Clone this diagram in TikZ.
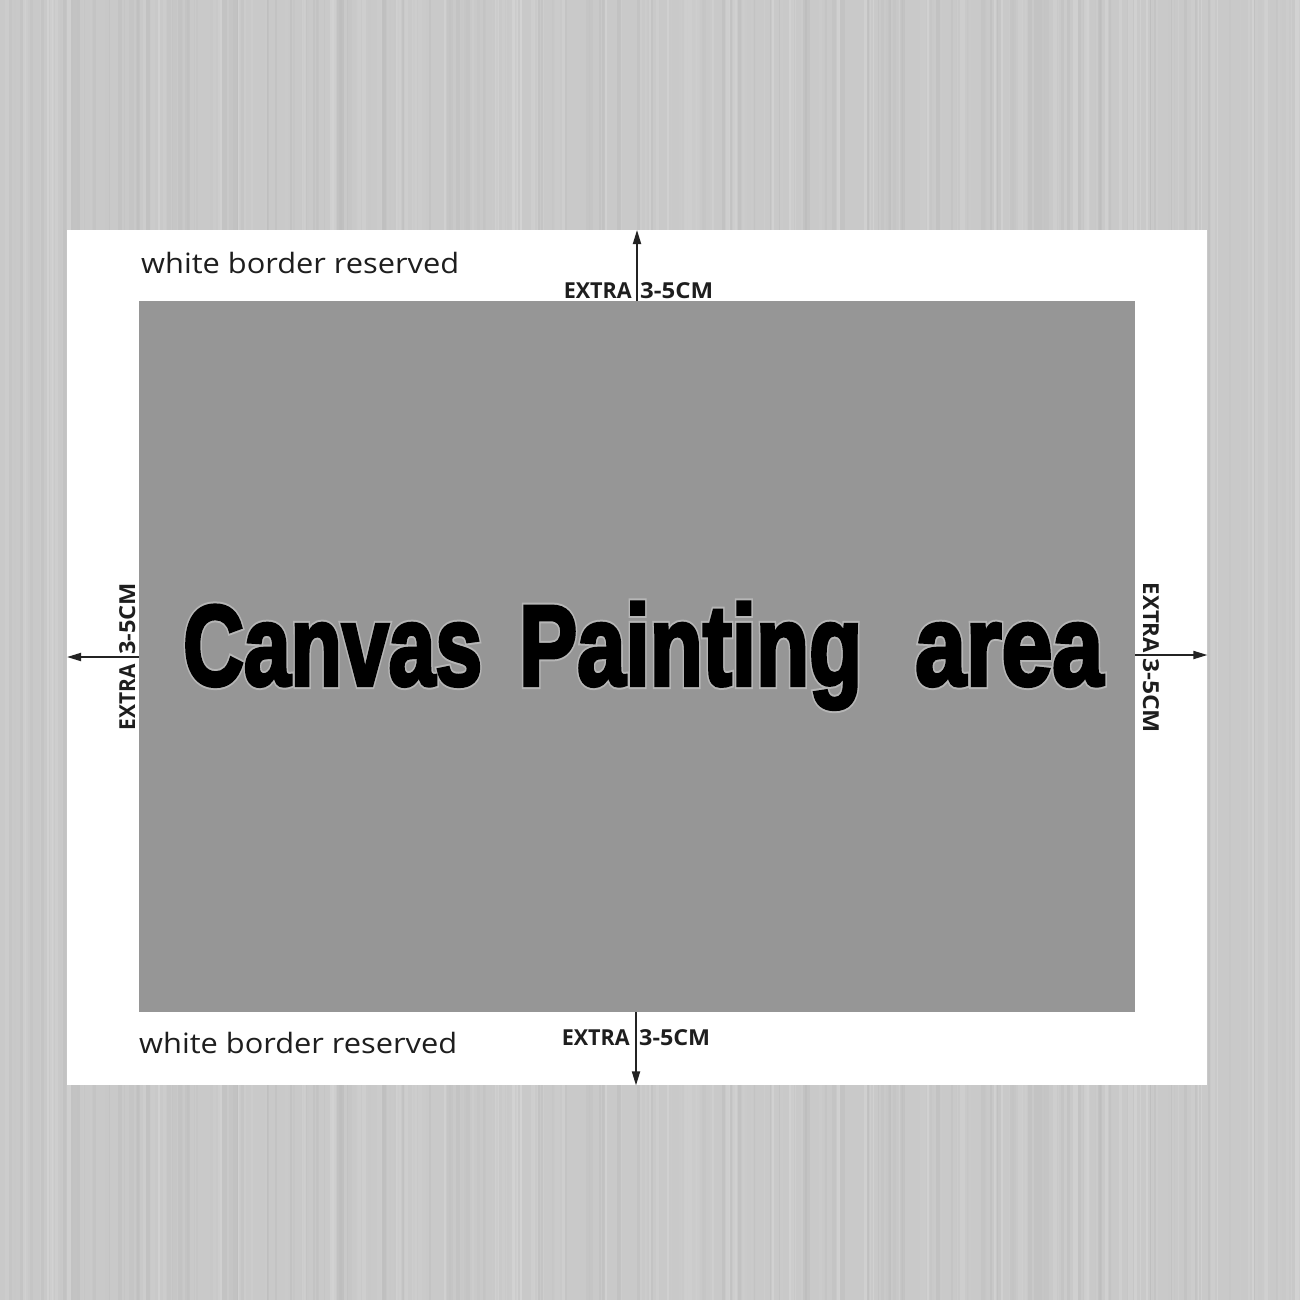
\documentclass[tikz,border=0pt]{standalone}
\usepackage{fontspec}
\setmainfont{Open Sans}
\newfontfamily\bigf{Liberation Sans}[BoldFeatures={FakeBold=3.5}]
\newfontfamily\bigh{Liberation Sans}[BoldFeatures={FakeBold=7}]
\usetikzlibrary{arrows.meta}
\definecolor{bgc}{RGB}{201,201,201}
\definecolor{canvasc}{RGB}{150,150,150}
\definecolor{haloc}{RGB}{182,182,182}
\definecolor{arrc}{RGB}{35,35,35}
\definecolor{txtc}{RGB}{30,30,30}
\newcommand\bigword[4]{%
  \node[halotxt] (h#4) at (#1,#2) {\resizebox{#3pt}{\height}{#4}};
  \node[bigtxt] (w#4) at (#1,#2) {\resizebox{#3pt}{\height}{#4}};}
\begin{document}
\begin{tikzpicture}[x=1pt,y=-1pt,
  bigtxt/.style={anchor=base west, inner sep=0pt, text=black, font=\bigf\bfseries\fontsize{114}{114}\selectfont},
  halotxt/.style={anchor=base west, inner sep=0pt, text=haloc, font=\bigh\bfseries\fontsize{114}{114}\selectfont},
  smalltxt/.style={anchor=base west, inner sep=0pt, text=txtc, font=\fontsize{28}{28}\selectfont},
  extxt/.style={inner sep=0pt, text=txtc, font=\bfseries\fontsize{22}{22}\selectfont},
  arr/.style={draw=arrc, line width=1.8pt, -{Triangle[length=14pt,width=8pt]}},
  panel/.style={anchor=north west, inner sep=0pt, draw=none}]
\useasboundingbox (0,0) rectangle (1300,1300);
% streaked background
\fill[bgc] (0,0) rectangle (1300,1300);
\pgfmathsetseed{12}
\foreach \i in {1,...,360}{%
  \pgfmathsetmacro{\xx}{rnd*1300}%
  \pgfmathsetmacro{\ww}{0.8+rnd*4}%
  \pgfmathsetmacro{\gg}{int(14+rnd*14)}%
  \fill[black!\gg, opacity=0.45] (\xx,0) rectangle ++(\ww,1300);}
% panels
\node[panel, fill=white, minimum width=1140pt, minimum height=855pt] (border) at (67,230) {};
\node[panel, fill=canvasc, minimum width=996pt, minimum height=711pt] (canvas) at (139,301) {};
% arrow positions
\coordinate (tx) at (637,0);
\coordinate (bx) at (636,0);
\coordinate (ly) at (0,657);
\coordinate (ry) at (0,655);
\draw[arr] (canvas.north -| tx) -- (border.north -| tx);
\draw[arr] (canvas.south -| bx) -- (border.south -| bx);
\draw[arr] (canvas.west |- ly) -- (border.west |- ly);
\draw[arr] (canvas.east |- ry) -- (border.east |- ry);
% extra labels
\node[extxt, anchor=base east] (t1) at (632,298) {\resizebox{68pt}{\height}{EXTRA}};
\node[extxt, anchor=base west] (t2) at (640,298) {\resizebox{73pt}{\height}{3-5CM}};
\node[extxt, anchor=base east] (b1) at (630,1045) {\resizebox{68pt}{\height}{EXTRA}};
\node[extxt, anchor=base west] (b2) at (639,1045) {\resizebox{71pt}{\height}{3-5CM}};
\node[extxt, rotate=90, anchor=base east] (l1) at (135,664) {\resizebox{66pt}{\height}{EXTRA}};
\node[extxt, rotate=90, anchor=base west] (l2) at (135,655) {\resizebox{72pt}{\height}{3-5CM}};
\node[extxt, rotate=-90, anchor=base east] (r1) at (1143,653) {\resizebox{70pt}{\height}{EXTRA}};
\node[extxt, rotate=-90, anchor=base west] (r2) at (1143,658) {\resizebox{75pt}{\height}{3-5CM}};
% white border labels
\node[smalltxt] (wt) at (141,273) {\resizebox{318pt}{\height}{white border reserved}};
\node[smalltxt] (wb) at (139,1053) {\resizebox{318pt}{\height}{white border reserved}};
% main title
\bigword{183}{685}{299}{Canvas}
\bigword{519}{685}{343}{Painting}
\bigword{915}{685}{188}{area}
\end{tikzpicture}
\end{document}
